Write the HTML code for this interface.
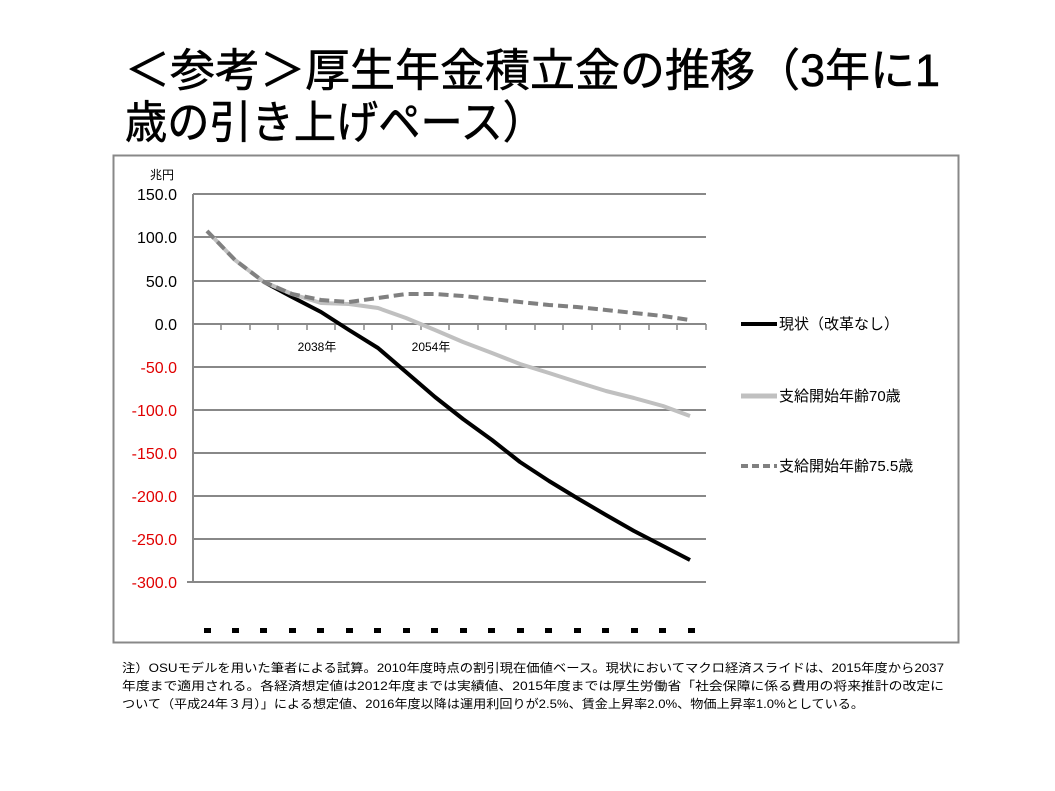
<!DOCTYPE html>
<html><head><meta charset="utf-8"><style>
body{margin:0;background:#fff;width:1055px;height:791px;overflow:hidden}
svg{display:block}
text{font-family:"Liberation Sans","Noto Sans CJK JP",sans-serif}
</style></head><body>
<svg width="1055" height="791" viewBox="0 0 1055 791">
<text x="125" y="86" font-size="45" textLength="815" lengthAdjust="spacingAndGlyphs" stroke="#000" stroke-width="0.6">＜参考＞厚生年金積立金の推移（3年に1</text>
<text x="125" y="138" font-size="45" textLength="420" lengthAdjust="spacingAndGlyphs" stroke="#000" stroke-width="0.6">歳の引き上げペース）</text>
<rect x="113.5" y="155.5" width="845" height="487" fill="none" stroke="#888" stroke-width="2"/>
<g stroke="#888" stroke-width="2">
<line x1="193" y1="194" x2="706" y2="194"/><line x1="193" y1="237" x2="706" y2="237"/>
<line x1="193" y1="281" x2="706" y2="281"/><line x1="193" y1="324" x2="706" y2="324"/>
<line x1="193" y1="367" x2="706" y2="367"/><line x1="193" y1="410" x2="706" y2="410"/>
<line x1="193" y1="453" x2="706" y2="453"/><line x1="193" y1="496" x2="706" y2="496"/>
<line x1="193" y1="539" x2="706" y2="539"/><line x1="187" y1="582" x2="706" y2="582"/>
<line x1="193" y1="194" x2="193" y2="582"/>
<g stroke-width="1.5">
<line x1="221" y1="324" x2="221" y2="330"/><line x1="250" y1="324" x2="250" y2="330"/><line x1="278" y1="324" x2="278" y2="330"/><line x1="307" y1="324" x2="307" y2="330"/><line x1="335" y1="324" x2="335" y2="330"/><line x1="364" y1="324" x2="364" y2="330"/><line x1="392" y1="324" x2="392" y2="330"/><line x1="421" y1="324" x2="421" y2="330"/><line x1="449" y1="324" x2="449" y2="330"/><line x1="478" y1="324" x2="478" y2="330"/><line x1="506" y1="324" x2="506" y2="330"/><line x1="535" y1="324" x2="535" y2="330"/><line x1="563" y1="324" x2="563" y2="330"/><line x1="592" y1="324" x2="592" y2="330"/><line x1="620" y1="324" x2="620" y2="330"/><line x1="649" y1="324" x2="649" y2="330"/><line x1="677" y1="324" x2="677" y2="330"/><line x1="706" y1="324" x2="706" y2="330"/>
</g></g>
<text x="150" y="179" font-size="12">兆円</text>
<g font-size="16" text-anchor="end">
<text x="177" y="200">150.0</text><text x="177" y="243">100.0</text><text x="177" y="287">50.0</text><text x="177" y="330">0.0</text>
<g fill="#e00000"><text x="177" y="373">-50.0</text><text x="177" y="416">-100.0</text><text x="177" y="459">-150.0</text><text x="177" y="502">-200.0</text><text x="177" y="545">-250.0</text><text x="177" y="588">-300.0</text></g>
</g>
<text x="317" y="351" font-size="12" text-anchor="middle">2038年</text>
<text x="431" y="351" font-size="12" text-anchor="middle">2054年</text>
<polyline fill="none" stroke="#000" stroke-width="4" stroke-linejoin="round" points="264,282 292,297 321,312 349,330 378,348 406,372 435,397 463,419 492,440 520,462 549,481 577,498 606,515 634,531 663,546 690,560"/>
<polyline fill="none" stroke="#c0c0c0" stroke-width="4" stroke-linejoin="round" points="207,231 235,260 264,282 292,294 321,303 349,304 378,308 406,318 435,330 463,342 492,353 520,364 549,373 577,382 606,391 634,398 663,406 690,416"/>
<polyline fill="none" stroke="#808080" stroke-width="4" stroke-dasharray="10,5" points="207,231 235,260 264,282 292,294 321,300 349,302 378,298 406,294 435,294 463,296 492,299 520,302 549,305 577,307 606,310 634,313 663,316 690,320"/>
<g font-size="15">
<line x1="741" y1="324" x2="777" y2="324" stroke="#000" stroke-width="4"/>
<text x="779" y="329">現状（改革なし）</text>
<line x1="741" y1="396" x2="777" y2="396" stroke="#c0c0c0" stroke-width="5"/>
<text x="779" y="401">支給開始年齢70歳</text>
<line x1="741" y1="466" x2="777" y2="466" stroke="#808080" stroke-width="4" stroke-dasharray="7,4"/>
<text x="779" y="471">支給開始年齢75.5歳</text>
</g>
<g fill="#000">
<rect x="204" y="628" width="7" height="5"/><rect x="232" y="628" width="7" height="5"/><rect x="260" y="628" width="7" height="5"/><rect x="289" y="628" width="7" height="5"/><rect x="317" y="628" width="7" height="5"/><rect x="346" y="628" width="7" height="5"/><rect x="374" y="628" width="7" height="5"/><rect x="403" y="628" width="7" height="5"/><rect x="431" y="628" width="7" height="5"/><rect x="460" y="628" width="7" height="5"/><rect x="488" y="628" width="7" height="5"/><rect x="517" y="628" width="7" height="5"/><rect x="545" y="628" width="7" height="5"/><rect x="574" y="628" width="7" height="5"/><rect x="602" y="628" width="7" height="5"/><rect x="631" y="628" width="7" height="5"/><rect x="659" y="628" width="7" height="5"/><rect x="688" y="628" width="7" height="5"/>
</g>
<g font-size="12">
<text x="122" y="672" textLength="822" lengthAdjust="spacingAndGlyphs">注）OSUモデルを用いた筆者による試算。2010年度時点の割引現在価値ベース。現状においてマクロ経済スライドは、2015年度から2037</text>
<text x="122" y="690" textLength="822" lengthAdjust="spacingAndGlyphs">年度まで適用される。各経済想定値は2012年度までは実績値、2015年度までは厚生労働省「社会保障に係る費用の将来推計の改定に</text>
<text x="122" y="708" textLength="742" lengthAdjust="spacingAndGlyphs">ついて（平成24年３月）」による想定値、2016年度以降は運用利回りが2.5%、賃金上昇率2.0%、物価上昇率1.0%としている。</text>
</g>
</svg>
</body></html>
